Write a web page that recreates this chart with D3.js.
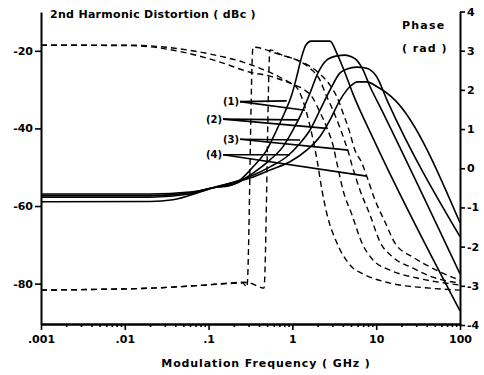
<!DOCTYPE html>
<html>
<head>
<meta charset="utf-8">
<script src="https://cdn.jsdelivr.net/npm/d3@7"></script>
<style>
  body { margin: 0; background: #fff; }
  text { font-family: "DejaVu Sans", sans-serif; font-weight: bold; fill: #000; }
</style>
</head>
<body>
<div class="chart"></div>
<script>
// ticks
const freqTicks = [0.001, 0.01, 0.1, 1, 10, 100];
const freqTickLabels = ['.001', '.01', '.1', '1', '10', '100'];
const dbTicks = [-20, -40, -60, -80];
const phaseTicks = [4, 3, 2, 1, 0, -1, -2, -3, -4];

// 2nd harmonic distortion (dBc), solid lines
const s1Freq = [0.001, 0.02, 0.06, 0.113, 0.18, 0.237, 0.339, 0.493, 0.649, 0.817, 0.981, 1.125, 1.291, 1.45, 1.667, 2.81, 3.38, 4.25, 5.28, 9.16, 100];
const s1Db = [-56.9, -56.9, -56.4, -55.3, -54.7, -53.3, -49.9, -45.6, -40.4, -35.7, -31.4, -26.7, -21.5, -18.5, -17.5, -17.5, -20.6, -25.7, -31.1, -42.5, -87.0];
const s2Freq = [0.001, 0.02, 0.06, 0.113, 0.216, 0.339, 0.541, 0.773, 1.017, 1.291, 1.622, 2.02, 2.565, 3.40, 4.25, 5.14, 5.85, 6.96, 8.43, 11.1, 100];
const s2Db = [-57.3, -57.3, -56.6, -55.3, -54.1, -51.5, -48.1, -44.7, -40.4, -36.0, -30.9, -25.7, -22.4, -21.3, -21.1, -21.6, -22.4, -24.9, -29.2, -34.4, -77.5];
const s3Freq = [0.001, 0.02, 0.06, 0.113, 0.312, 0.541, 0.855, 1.233, 1.622, 2.133, 2.812, 3.70, 4.486, 5.85, 7.70, 10.14, 13.45, 100];
const s3Db = [-57.7, -57.7, -56.9, -55.3, -52.4, -49.9, -47.3, -43.8, -40.4, -35.3, -30.1, -25.7, -24.7, -24.2, -24.5, -26.7, -32.7, -67.9];
const s4Freq = [0.001, 0.02, 0.0376, 0.0789, 0.113, 0.312, 0.541, 0.935, 1.482, 2.133, 2.812, 3.70, 4.87, 6.06, 7.70, 10.14, 16.75, 100];
const s4Db = [-58.9, -58.85, -58.4, -56.4, -55.3, -52.8, -50.7, -48.6, -45.6, -42.1, -37.8, -32.7, -29.2, -28.0, -28.0, -29.2, -32.7, -64.3];

// phase (rad), dashed lines
const p1Freq = [0.001, 0.0115, 0.0552, 0.137, 0.257, 0.471, 0.817, 1.135, 1.303, 1.45, 1.714, 1.967, 2.254, 2.55, 3.40, 4.87, 7.35, 14.6, 43.9, 100];
const p1Rad = [3.14, 3.14, 3.02, 2.86, 2.71, 2.50, 2.25, 2.05, 1.79, 1.48, 0.85, 0.21, -0.56, -1.12, -1.91, -2.47, -2.72, -2.93, -3.06, -3.11];
const p2Freq = [0.001, 0.0115, 0.0552, 0.137, 0.312, 0.541, 0.935, 1.413, 1.714, 2.133, 2.588, 3.048, 3.40, 4.02, 5.14, 6.77, 9.16, 14.6, 30.7, 100];
const p2Rad = [3.14, 3.13, 2.94, 2.71, 2.45, 2.35, 2.17, 1.99, 1.82, 1.43, 1.03, 0.59, 0.13, -0.56, -1.19, -1.91, -2.34, -2.60, -2.80, -2.98];
const p3Freq = [0.001, 0.00506, 0.02, 0.0789, 0.18, 0.257, 0.287, 0.339, 0.446, 0.586, 0.817, 1.135, 1.622, 2.133, 2.518, 3.048, 3.70, 4.245, 4.61, 5.14, 6.41, 8.43, 11.1, 15.85, 27.5, 47.6, 100];
const p3Rad = [-3.11, -3.09, -3.06, -2.99, -2.94, -2.93, -3.03, 3.09, 3.05, 2.96, 2.86, 2.76, 2.55, 2.25, 1.87, 1.48, 1.03, 0.67, 0.44, 0.08, -0.56, -1.19, -1.88, -2.27, -2.55, -2.78, -2.93];
const p4Freq = [0.001, 0.00506, 0.02, 0.0789, 0.18, 0.257, 0.312, 0.388, 0.458, 0.541, 0.711, 0.989, 1.303, 2.02, 2.812, 3.40, 4.02, 4.73, 5.58, 6.77, 7.76, 9.68, 12.74, 16.75, 27.5, 43.9, 100];
const p4Rad = [-3.11, -3.09, -3.06, -2.99, -2.93, -2.91, -2.93, -3.01, -3.06, 3.02, 2.91, 2.81, 2.71, 2.45, 2.12, 1.82, 1.41, 0.98, 0.46, 0.13, -0.22, -0.81, -1.37, -1.91, -2.27, -2.52, -2.86];

// leader labels: start point, then end on solid curve and end on dashed curve
const leaderNames = ['(1)', '(2)', '(3)', '(4)'];
const leaderStart = [[0.237, -33.1], [0.1486, -37.6], [0.237, -42.8], [0.1486, -46.8]];
const leaderSolidEnd = [[0.855, -32.9], [1.167, -37.8], [1.233, -43.0], [0.935, -46.8]];
const leaderDashEnd = [[1.413, -35.3], [2.565, -40.0], [4.65, -45.6], [7.70, -52.3]];

const width = 484;
const height = 375;
const margin = { left: 41, right: 24, top: 12, bottom: 51 };

const svg = d3.select('.chart')
  .append('svg')
  .attr('width', width)
  .attr('height', height);

const x = d3.scaleLog()
  .domain([0.001, 100])
  .range([margin.left, width - margin.right]);

const yDb = d3.scaleLinear()
  .domain([-90.4, -10])
  .range([height - margin.bottom, margin.top]);

const yRad = d3.scaleLinear()
  .domain([-4, 4])
  .range([height - margin.bottom + 1, margin.top - 0.5]);

const zip = (a, b) => a.map((v, i) => [v, b[i]]);

const dbLine = d3.line()
  .x(d => x(d[0]))
  .y(d => yDb(d[1]))
  .curve(d3.curveMonotoneX);

const radLine = d3.line()
  .x(d => x(d[0]))
  .y(d => yRad(d[1]))
  .curve(d3.curveMonotoneX);

const solidSeries = [zip(s1Freq, s1Db), zip(s2Freq, s2Db), zip(s3Freq, s3Db), zip(s4Freq, s4Db)];
const dashSeries = [zip(p1Freq, p1Rad), zip(p2Freq, p2Rad), zip(p3Freq, p3Rad), zip(p4Freq, p4Rad)];

svg.append('g')
  .selectAll('path')
  .data(dashSeries)
  .enter()
  .append('path')
  .attr('d', radLine)
  .attr('fill', 'none')
  .attr('stroke', '#000')
  .attr('stroke-width', 1.4)
  .attr('stroke-dasharray', '6,4');

svg.append('g')
  .selectAll('path')
  .data(solidSeries)
  .enter()
  .append('path')
  .attr('d', dbLine)
  .attr('fill', 'none')
  .attr('stroke', '#000')
  .attr('stroke-width', 1.6);

// leader lines
const leaders = svg.append('g')
  .selectAll('g')
  .data(leaderNames)
  .enter()
  .append('g');

leaders.append('text')
  .attr('x', (d, i) => x(leaderStart[i][0]) - 1)
  .attr('y', (d, i) => yDb(leaderStart[i][1]))
  .attr('dy', '0.35em')
  .attr('text-anchor', 'end')
  .attr('font-size', 10)
  .text(d => d);

leaders.each(function (d, i) {
  const g = d3.select(this);
  [leaderSolidEnd[i], leaderDashEnd[i]].forEach(end => {
    g.append('line')
      .attr('x1', x(leaderStart[i][0]))
      .attr('y1', yDb(leaderStart[i][1]))
      .attr('x2', x(end[0]))
      .attr('y2', yDb(end[1]))
      .attr('stroke', '#000')
      .attr('stroke-width', 1.6);
  });
});

// axes
const styleAxis = g => {
  g.select('.domain').attr('stroke-width', 2);
  g.selectAll('.tick line').attr('stroke-width', 1.6);
  g.selectAll('.tick text')
    .attr('font-size', 11)
    .attr('font-family', '"DejaVu Sans", sans-serif')
    .attr('font-weight', 'bold');
};

const minorTicks = [];
for (let e = -3; e < 2; e++) {
  for (let m = 2; m < 10; m++) minorTicks.push(m * Math.pow(10, e));
}

svg.append('g')
  .attr('transform', `translate(0,${height - margin.bottom})`)
  .call(d3.axisBottom(x).tickValues(minorTicks).tickSize(3).tickSizeOuter(0).tickFormat(''))
  .call(styleAxis);

svg.append('g')
  .attr('transform', `translate(0,${height - margin.bottom})`)
  .call(d3.axisBottom(x).tickValues(freqTicks).tickSize(6).tickSizeOuter(0)
    .tickFormat((d, i) => freqTickLabels[i]))
  .call(styleAxis)
  .call(g => g.selectAll('.tick text').attr('dy', '0.95em'));

svg.append('g')
  .attr('transform', `translate(${margin.left},0)`)
  .call(d3.axisLeft(yDb).tickValues(dbTicks).tickSize(6).tickSizeOuter(0).tickPadding(2)
    .tickFormat(d => String(d)))
  .call(styleAxis);

svg.append('g')
  .attr('transform', `translate(${width - margin.right},0)`)
  .call(d3.axisRight(yRad).tickValues(phaseTicks).tickSize(5).tickSizeOuter(0).tickPadding(2)
    .tickFormat(d => String(d)))
  .call(styleAxis);

// titles
svg.append('text')
  .attr('x', 50)
  .attr('y', 18)
  .attr('font-size', 11)
  .attr('letter-spacing', 0.3)
  .text('2nd Harmonic Distortion ( dBc )');

svg.append('text')
  .attr('x', 402)
  .attr('y', 29)
  .attr('font-size', 11)
  .attr('letter-spacing', 1.2)
  .text('Phase');

svg.append('text')
  .attr('x', 402)
  .attr('y', 52)
  .attr('font-size', 11)
  .attr('letter-spacing', 1)
  .text('( rad )');

svg.append('text')
  .attr('x', 266)
  .attr('y', 367)
  .attr('text-anchor', 'middle')
  .attr('font-size', 11)
  .attr('letter-spacing', 0.9)
  .text('Modulation Frequency ( GHz )');
</script>
</body>
</html>
